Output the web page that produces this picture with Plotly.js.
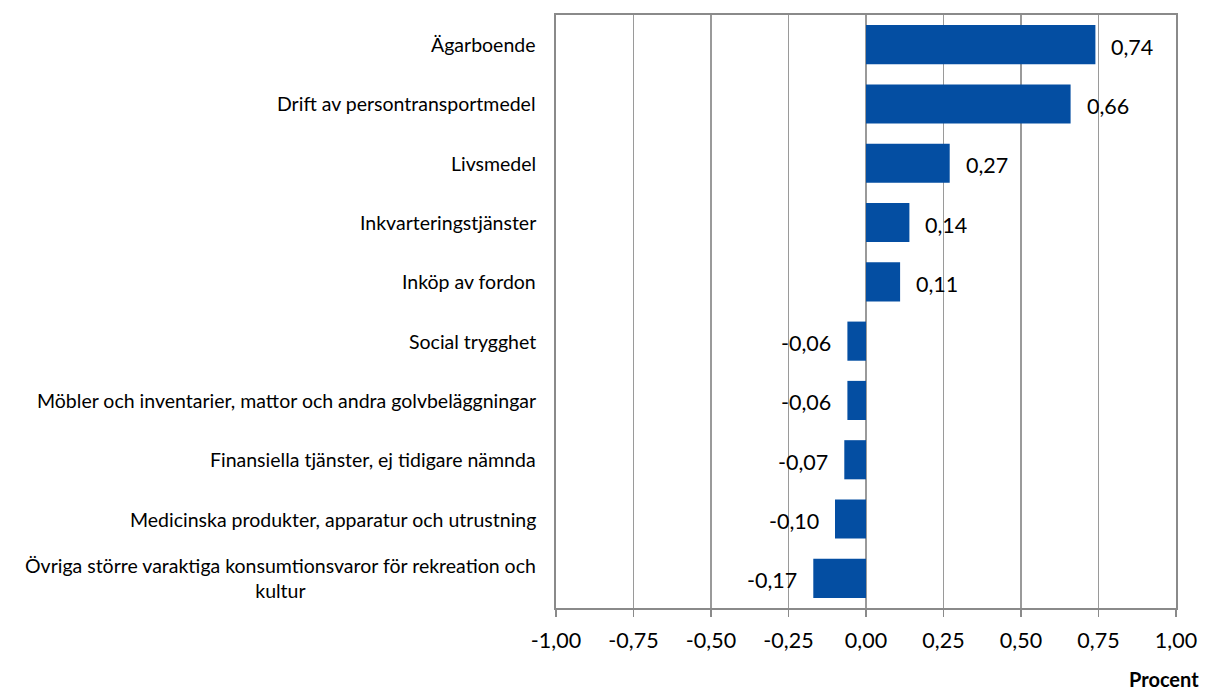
<!DOCTYPE html>
<html>
<head>
<meta charset="utf-8">
<script src="https://cdn.plot.ly/plotly-3.0.1.min.js"></script>
<style>html,body{margin:0;padding:0;background:#fff;}#chart{width:1206px;height:692px;}</style>
</head>
<body>
<div id="chart"></div>
<script>
var categories = [
  "Ägarboende",
  "Drift av persontransportmedel",
  "Livsmedel",
  "Inkvarteringstjänster",
  "Inköp av fordon",
  "Social trygghet",
  "Möbler och inventarier, mattor och andra golvbeläggningar",
  "Finansiella tjänster, ej tidigare nämnda",
  "Medicinska produkter, apparatur och utrustning",
  "Övriga större varaktiga konsumtionsvaror för rekreation och<br>kultur"
];
var values = [0.74, 0.66, 0.27, 0.14, 0.11, -0.06, -0.06, -0.07, -0.10, -0.17];
var tickValues = [-1, -0.75, -0.5, -0.25, 0, 0.25, 0.5, 0.75, 1];
var xTitle = "Procent";

function fmt(v){ return v.toFixed(2).replace(".", ","); }

var font = "Lato, 'Open Sans', sans-serif";

var trace = {
  type: "bar",
  orientation: "h",
  y: categories,
  x: values,
  marker: {color: "#044EA2"},
  hoverinfo: "none"
};

var annotations = values.map(function(v, i){
  return {
    x: v, y: categories[i], xref: "x", yref: "y",
    text: fmt(v), showarrow: false,
    xanchor: v >= 0 ? "left" : "right",
    xshift: v >= 0 ? 14 : -14,
    yshift: -2,
    font: {family: font, size: 21.5, color: "#000"}
  };
});
categories.forEach(function(c){
  annotations.push({
    x: 0, xref: "paper", y: c, yref: "y",
    text: c, showarrow: false,
    xanchor: "right", align: "center",
    xshift: -18,
    font: {family: font, size: 19.5, color: "#000"}
  });
});
annotations.push({
  xref: "paper", yref: "paper", x: 1, y: -0.12, xanchor: "right", yanchor: "middle",
  xshift: 25,
  text: "<b>" + xTitle + "</b>", showarrow: false,
  font: {family: font, size: 20, color: "#000"}
});

var layout = {
  width: 1206, height: 692,
  margin: {l: 556, r: 30, t: 15, b: 84},
  paper_bgcolor: "#fff", plot_bgcolor: "#fff",
  bargap: 0.34,
  showlegend: false,
  xaxis: {
    range: [-1, 1],
    tickvals: tickValues,
    ticktext: tickValues.map(fmt),
    showgrid: true, gridcolor: "#9a9a9a", gridwidth: 1.5,
    zeroline: false,
    showline: true, linecolor: "#8a8a8a", linewidth: 2, mirror: true,
    ticks: "outside", ticklen: 7, tickcolor: "#8a8a8a", tickwidth: 1.5,
    tickfont: {family: font, size: 21.5, color: "#000"},
    ticklabelstandoff: 5
  },
  yaxis: {
    autorange: "reversed",
    showgrid: false, zeroline: false,
    showline: true, linecolor: "#8a8a8a", linewidth: 2, mirror: true,
    ticks: "",
    showticklabels: false
  },
  annotations: annotations
};

Plotly.newPlot("chart", [trace], layout, {displayModeBar: false, staticPlot: true});
</script>
</body>
</html>
